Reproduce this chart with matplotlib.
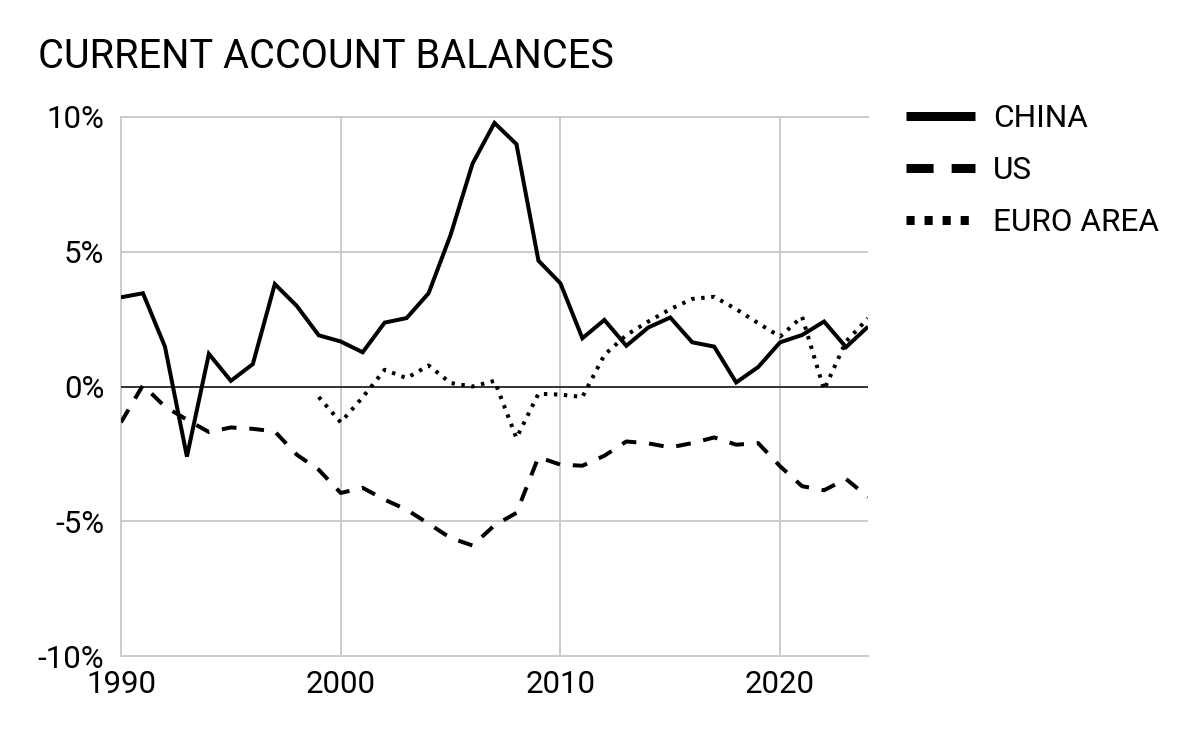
import matplotlib
matplotlib.use("Agg")
import matplotlib.pyplot as plt
from matplotlib.lines import Line2D
import numpy as np

years = list(range(1990, 2025))

china = [3.31, 3.46, 1.48, -2.6, 1.21, 0.21, 0.83, 3.80, 2.99, 1.90,
         1.67, 1.27, 2.37, 2.54, 3.46, 5.62, 8.27, 9.78, 8.99, 4.67,
         3.83, 1.79, 2.47, 1.51, 2.19, 2.56, 1.64, 1.48, 0.15, 0.72,
         1.64, 1.91, 2.41, 1.46, 2.22]

us = [-1.33, 0.05, -0.75, -1.23, -1.69, -1.52, -1.57, -1.67, -2.53, -3.09,
      -3.95, -3.76, -4.20, -4.57, -5.09, -5.62, -5.90, -5.15, -4.69, -2.62,
      -2.90, -2.94, -2.57, -2.04, -2.11, -2.26, -2.10, -1.89, -2.16, -2.10,
      -2.96, -3.70, -3.85, -3.43, -4.10]

euro = [np.nan] * 9 + [
    -0.39, -1.33, -0.40, 0.62, 0.31, 0.78, 0.13, 0.00, 0.21, -1.91,
    -0.27, -0.30, -0.39, 1.17, 1.91, 2.41, 2.87, 3.25, 3.33, 2.87,
    2.35, 1.85, 2.59, -0.12, 1.67, 2.53]

series_labels = ["CHINA", "US", "EURO AREA"]
title = "CURRENT ACCOUNT BALANCES"
xticks = [1990, 2000, 2010, 2020]
yticks = [-10, -5, 0, 5, 10]
ytick_labels = ["-10%", "-5%", "0%", "5%", "10%"]

plt.rcParams['font.family'] = ['Roboto', 'DejaVu Sans']

fig = plt.figure(figsize=(12, 7.42), dpi=100)
ax = fig.add_axes([121/1200, 1 - 656/742, (868-121)/1200, (656-117)/742])

grid_c = "#cccccc"
lw_px = 4 * 0.72

ax.plot(years, china, color="black", lw=lw_px, solid_joinstyle="miter",
        solid_capstyle="butt", zorder=4)
ax.plot(years, us, color="black", lw=lw_px, dashes=(3.7, 3.2),
        dash_capstyle="butt", zorder=4)
ax.plot(years, euro, color="black", lw=lw_px, dashes=(0.85, 1.65),
        dash_capstyle="butt", zorder=4)

ax.axhline(0, color="#333333", lw=1.4, zorder=3)

ax.set_xlim(1990, 2024)
ax.set_ylim(-10, 10)
ax.set_xticks(xticks)
ax.set_xticklabels([str(x) for x in xticks])
ax.set_yticks(yticks)
ax.set_yticklabels(ytick_labels)
ax.grid(True, color=grid_c, lw=1.4, zorder=1)
ax.set_axisbelow(True)
for s in ["left", "bottom", "top"]:
    ax.spines[s].set_color(grid_c)
    ax.spines[s].set_linewidth(1.4)
ax.spines["right"].set_visible(False)
ax.tick_params(axis="both", length=0, labelsize=22.5, colors="black")
ax.tick_params(axis="y", pad=12)
ax.tick_params(axis="x", pad=10)

fig.text(38/1200, 1 - 57/742, title, fontsize=28.5, va="center", ha="left",
         color="black")

handles = [
    Line2D([], [], color="black", lw=6.5, solid_capstyle="butt"),
    Line2D([], [], color="black", lw=6.5, dashes=(3.0, 2.0), dash_capstyle="butt"),
    Line2D([], [], color="black", lw=6.5, dashes=(0.9, 1.1), dash_capstyle="butt"),
]
leg = fig.legend(handles, series_labels, loc="upper left",
                 bbox_to_anchor=(906/1200, 1 - 104/742), frameon=False,
                 fontsize=22.7, handlelength=2.2, handletextpad=0.57,
                 labelspacing=0.73, borderaxespad=0, borderpad=0)

fig.savefig("out.png", dpi=100, facecolor="white")
